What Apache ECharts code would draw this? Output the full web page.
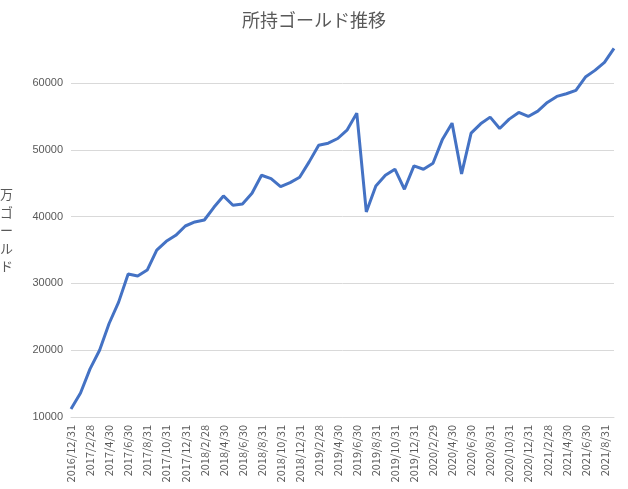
<!DOCTYPE html><html><head><meta charset="utf-8"><script src="https://cdn.jsdelivr.net/npm/echarts@6/dist/echarts.min.js"></script></head><body style="margin:0"><div id="c" style="width:628px;height:489px"></div><script>
const months=[];
for(let y=2016,m=12;months.length<58;){const d=new Date(y,m,0).getDate();months.push(y+'/'+m+'/'+d);m++;if(m>12){m=1;y++;}}
const values=[11200,13600,17200,20000,24000,27200,31400,31100,32000,35000,36300,37200,38600,39200,39500,41400,43100,41700,41900,43500,46200,45700,44500,45100,45900,48200,50700,51000,51700,53000,55500,40700,44600,46200,47100,44100,47600,47100,48000,51600,54000,46400,52500,53900,54900,53200,54600,55600,55000,55800,57100,58000,58400,58900,60900,61900,63100,65200];
const c=echarts.init(document.getElementById('c'));
c.setOption({animation:false,
title:{text:'所持ゴールド推移',left:'center',top:6,textStyle:{fontSize:18,fontWeight:'normal',color:'#595959',fontFamily:'Noto Sans CJK JP'}},
grid:{left:71,right:14,top:43,bottom:72,containLabel:false,outerBoundsMode:'none'},
xAxis:{type:'category',data:months,boundaryGap:false,axisTick:{show:false},axisLine:{lineStyle:{color:'#d9d9d9'}},
 axisLabel:{rotate:90,interval:1,color:'#595959',fontSize:11,fontFamily:'Noto Sans CJK JP'}},
yAxis:{type:'value',min:10000,max:66000,interval:10000,name:'万\nゴ\nー\nル\nド',nameLocation:'middle',nameRotate:0,nameGap:58,
 nameTextStyle:{color:'#595959',fontSize:13,lineHeight:18,fontFamily:'Noto Sans CJK JP'},
 axisLabel:{color:'#595959',fontSize:11,showMaxLabel:false,formatter:v=>String(v)},
 splitLine:{lineStyle:{color:['#d9d9d9','#d9d9d9','#d9d9d9','#d9d9d9','#d9d9d9','#d9d9d9','rgba(0,0,0,0)']}}},
series:[{type:'line',data:values,symbol:'none',lineStyle:{color:'#4472c4',width:3}}]});
</script></body></html>
